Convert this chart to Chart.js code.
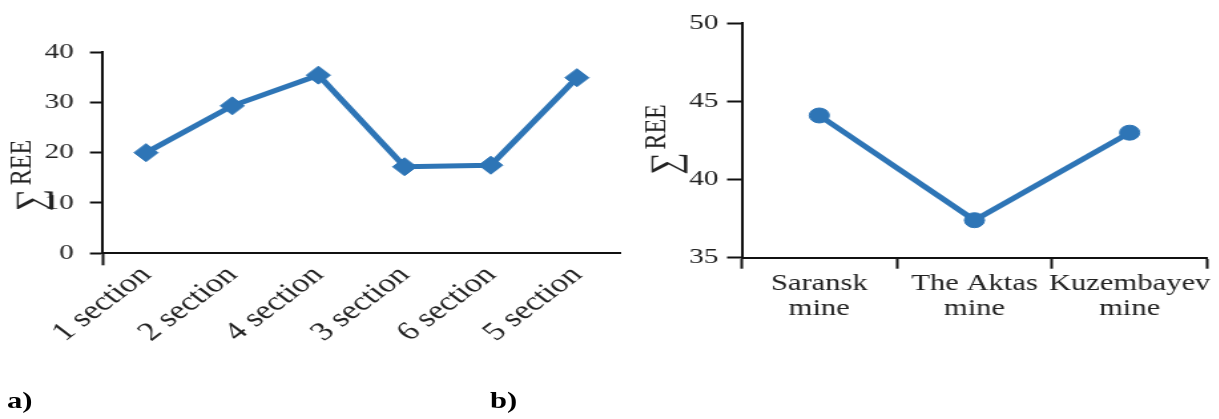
<!DOCTYPE html>
<html>
<head>
<meta charset="utf-8">
<script src="https://cdn.jsdelivr.net/npm/chart.js@4.4.1/dist/chart.umd.min.js"></script>
<style>
  html, body { margin: 0; padding: 0; background: #ffffff; }
  body { width: 1219px; height: 419px; position: relative; overflow: hidden; }
  .stretch { position: absolute; top: 0; transform: scaleX(1.33); transform-origin: 0 0; }
  .panel-label { position: absolute; font-family: "Liberation Serif", serif; font-weight: bold; font-size: 23px; color: #000; transform: scaleX(1.33); transform-origin: 0 0; }
</style>
</head>
<body>
<canvas id="chartA" class="stretch" width="481" height="419" style="left:0px;"></canvas>
<canvas id="chartB" class="stretch" width="450" height="419" style="left:620px;"></canvas>
<div class="panel-label" style="left:7px; top:388px;">a)</div>
<div class="panel-label" style="left:490px; top:388px;">b)</div>
<script>
// ---- Data ----
const sectionLabels = ['1 section', '2 section', '4 section', '3 section', '6 section', '5 section'];
const sectionREE = [20.0, 29.3, 35.4, 17.2, 17.5, 34.9];
const yTicksA = [0, 10, 20, 30, 40];

const mineLabels = [['Saransk', 'mine'], ['The Aktas', 'mine'], ['Kuzembayev', 'mine']];
const mineREE = [44.1, 37.4, 43.0];
const yTicksB = [35, 40, 45, 50];

const yTitleSymbol = '\u2211';
const yTitleText = 'REE';

// ---- Style ----
const BLUE = '#2E75B6';
const AXIS = '#111111';
const TEXT = '#222222';
const SERIF = '"Liberation Serif", "Times New Roman", serif';

const yTitlePlugin = {
  id: 'yTitle',
  afterDraw(chart, args, opts) {
    const { ctx, chartArea } = chart;
    ctx.save();
    ctx.fillStyle = TEXT;
    ctx.translate(opts.x, (chartArea.top + chartArea.bottom) / 2 + opts.dy);
    ctx.rotate(-Math.PI / 2);
    ctx.textBaseline = 'alphabetic';
    ctx.textAlign = 'left';
    const fSym = opts.symSize + 'px ' + SERIF;
    const fTxt = opts.size + 'px ' + SERIF;
    ctx.font = fSym;
    const wSym = ctx.measureText(opts.symbol).width;
    ctx.font = fTxt;
    const wTxt = ctx.measureText(opts.text).width;
    const total = wSym + opts.gap + wTxt;
    const x0 = -total / 2;
    const base = opts.size * 0.33; // shared baseline so capitals are centred on the anchor
    ctx.font = fSym;
    ctx.fillText(opts.symbol, x0, base + opts.symShift);
    ctx.font = fTxt;
    ctx.fillText(opts.text, x0 + wSym + opts.gap, base);
    ctx.restore();
  }
};

function makeChart(id, cfg) {
  return new Chart(document.getElementById(id), {
    type: 'line',
    data: {
      labels: cfg.labels,
      datasets: [{
        data: cfg.values,
        borderColor: BLUE,
        backgroundColor: BLUE,
        borderWidth: 5,
        pointStyle: cfg.pointStyle,
        pointRadius: cfg.pointRadius,
        pointHoverRadius: cfg.pointRadius,
        pointBackgroundColor: BLUE,
        pointBorderColor: BLUE,
        pointBorderWidth: 1,
        tension: 0,
        fill: false
      }]
    },
    options: {
      responsive: false,
      animation: false,
      devicePixelRatio: 1,
      layout: { padding: cfg.padding },
      plugins: {
        legend: { display: false },
        tooltip: { enabled: false },
        title: { display: false },
        yTitle: cfg.yTitle
      },
      scales: {
        x: {
          type: 'category',
          offset: true,
          afterFit: (s) => { s.height = cfg.xHeight; },
          grid: {
            drawOnChartArea: false,
            offset: true,
            drawTicks: true,
            tickLength: cfg.xTickLength,
            tickWidth: 2,
            tickColor: cfg.xTickColor
          },
          border: { display: true, color: AXIS, width: 2 },
          ticks: {
            autoSkip: false,
            minRotation: cfg.rotation,
            maxRotation: cfg.rotation,
            padding: cfg.xPad,
            color: TEXT,
            font: { family: SERIF, size: cfg.xFont, lineHeight: cfg.xLineHeight }
          }
        },
        y: {
          min: cfg.yTicks[0],
          max: cfg.yTicks[cfg.yTicks.length - 1],
          afterFit: (s) => { s.width = cfg.yWidth; },
          afterBuildTicks: (s) => { s.ticks = cfg.yTicks.map(v => ({ value: v })); },
          grid: {
            drawOnChartArea: false,
            drawTicks: true,
            tickLength: cfg.yTickLength,
            tickWidth: 2,
            tickColor: AXIS
          },
          border: { display: true, color: AXIS, width: 2 },
          ticks: {
            padding: cfg.yPad,
            color: TEXT,
            font: { family: SERIF, size: cfg.yFont }
          }
        }
      }
    },
    plugins: [yTitlePlugin]
  });
}

makeChart('chartA', {
  labels: sectionLabels,
  values: sectionREE,
  yTicks: yTicksA,
  pointStyle: 'rectRot',
  pointRadius: 9,
  padding: { top: 52, right: 14.8, bottom: 0, left: 0 },
  xHeight: 165.7,
  yWidth: 77.4,
  xTickLength: 12,
  xTickColor: (c) => (c.index === 0 ? AXIS : 'rgba(0,0,0,0)'),
  rotation: 45,
  xPad: -4,
  xFont: 26,
  xLineHeight: 1.05,
  yTickLength: 9.8,
  yPad: 12,
  yFont: 22,
  yTitle: { symbol: yTitleSymbol, text: yTitleText, x: 15.2, dy: 23, size: 24, symSize: 31, symShift: 10, gap: 4 }
});

makeChart('chartB', {
  labels: mineLabels,
  values: mineREE,
  yTicks: yTicksB,
  pointStyle: 'circle',
  pointRadius: 7.5,
  padding: { top: 23.3, right: 0, bottom: 0, left: 0 },
  xHeight: 161.3,
  yWidth: 91.5,
  xTickLength: 11,
  xTickColor: AXIS,
  rotation: 0,
  xPad: 3,
  xFont: 23,
  xLineHeight: 1.08,
  yTickLength: 11,
  yPad: 6.5,
  yFont: 22,
  yTitle: { symbol: yTitleSymbol, text: yTitleText, x: 26.5, dy: -1, size: 24, symSize: 31, symShift: 10, gap: 3 }
});
</script>
</body>
</html>
